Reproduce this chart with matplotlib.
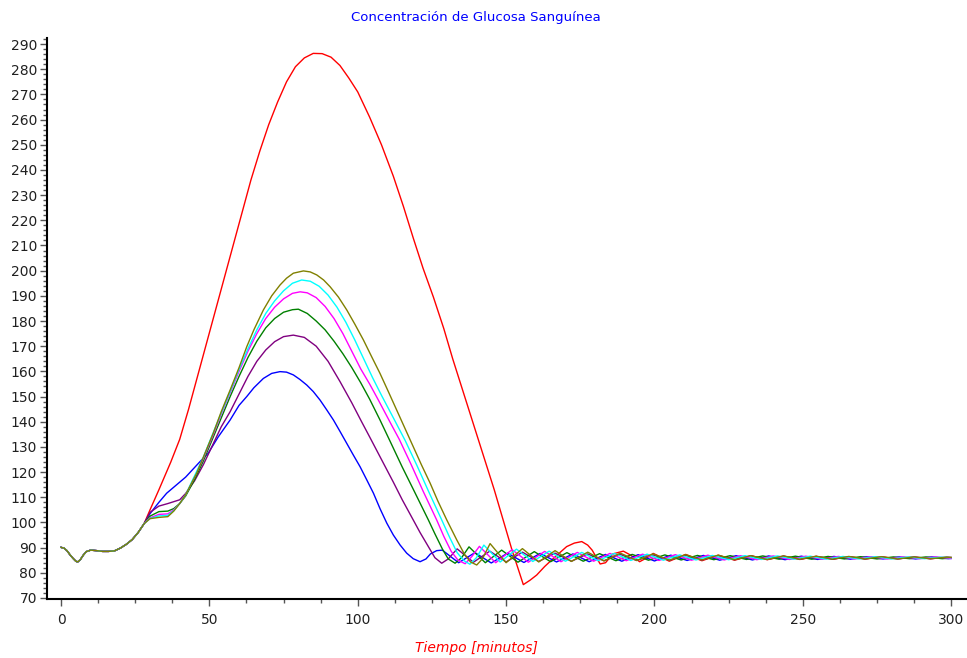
import matplotlib
matplotlib.use("Agg")
import matplotlib.pyplot as plt
from matplotlib.ticker import MultipleLocator

# ---------------- data ----------------
t_common = [0, 1, 2, 3, 4, 5, 5.6, 6.5, 7.5, 8.5, 10, 12, 14, 16, 18, 20, 22, 24, 26, 28]
g_common = [90.1, 89.8, 88.8, 87.2, 85.8, 84.6, 84.3, 85.2, 87.0, 88.4, 89.0, 88.8, 88.5, 88.5,
            88.7, 89.8, 91.3, 93.2, 96.0, 99.5]

t_red = [30, 33, 37, 40, 43, 46, 49, 52, 55, 58, 61, 64, 67, 70, 73, 76, 79, 82, 85, 88, 91, 94,
         97, 100, 104, 108, 112, 115.4, 118.7, 122, 125.5, 129, 132, 135.5, 139, 142.5, 146, 149,
         152, 154.5, 155.8, 158, 160.3, 163, 166, 170.4, 173, 175.5, 177.5, 179, 181.7, 183.5, 186,
         189.5, 192, 195, 197.5, 199.6, 205, 210.5, 216, 221.5, 227, 232.5, 238, 243.5, 249, 254.5,
         260, 265.5, 271, 276.5, 282, 287.5, 293, 298.5, 300]
g_red = [105, 113, 124, 133, 145, 158, 171, 184, 197, 210, 223, 236, 247.5, 258, 267, 275, 281,
         284.5, 286.3, 286.2, 284.8, 281.5, 276.5, 271, 261, 250, 237.5, 225.5, 213, 201, 189.5,
         177, 165, 152, 139, 126, 113, 101, 89, 80, 75.3, 77, 79.1, 82.5, 85.8, 90.4, 91.8, 92.4,
         91, 89, 83.5, 84, 87.5, 88.6, 87, 84.4, 86, 87.7, 84.6, 87.3, 84.8, 87.0, 85.0, 86.8, 85.2,
         86.6, 85.3, 86.5, 85.4, 86.4, 85.5, 86.3, 85.6, 86.2, 85.6, 86.1, 86.0]

t_blue = [30, 33, 35.6, 38.9, 42, 46.8, 49.6, 53, 57, 60, 62.6, 65, 68.2, 71, 73.8, 76, 78.3,
          80.5, 82.8, 85, 87.3, 89.5, 91.8, 94, 96.3, 98.5, 100.8, 103, 105.3, 107.5, 109.8, 112,
          114.3, 116.5, 118.7, 121, 123, 124.5, 126.6, 128.5, 134, 139.5, 145, 150.5, 156, 161.5,
          167, 172.5, 178, 183.5, 189, 194.5, 200, 205.5, 211, 216.5, 222, 227.5, 233, 238.5, 244,
          249.5, 255, 260.5, 266, 271.5, 277, 282.5, 288, 293.5, 299, 300]
g_blue = [103.5, 108, 111.6, 114.9, 118, 124.1, 127.5, 134, 140.7, 146.5, 150, 153.5, 157.2, 159.2,
          159.9, 159.7, 158.6, 156.8, 154.6, 152, 148.6, 144.8, 140.7, 136.2, 131.4, 126.8, 122.1,
          117, 111.6, 105.5, 99.7, 95, 91, 87.8, 85.6, 84.4, 85.5, 87.5, 88.8, 89.0, 84.0, 88.0,
          83.9, 87.8, 84.1, 87.7, 84.3, 87.5, 84.4, 87.3, 84.6, 87.2, 84.7, 87.0, 84.9, 86.9, 85.0,
          86.8, 85.1, 86.7, 85.2, 86.6, 85.3, 86.5, 85.4, 86.4, 85.5, 86.3, 85.5, 86.3, 85.6, 85.7]

t_purple = [30, 33, 36, 40, 42, 45, 48, 51, 54, 57, 60, 63, 66, 69, 72, 75, 78.3, 82, 86, 90, 94,
            98, 101.3, 104, 108, 112, 115, 118.7, 121, 124, 126, 128.3, 130.5, 133.5, 139, 144.5,
            150, 155.5, 161, 166.5, 172, 177.5, 183, 188.5, 194, 199.5, 205, 210.5, 216, 221.5,
            227, 232.5, 238, 243.5, 249, 254.5, 260, 265.5, 271, 276.5, 282, 287.5, 293, 298.5, 300]
g_purple = [104, 106.5, 107.5, 109, 111.5, 116.5, 123, 130.5, 138, 144, 151, 158, 164, 168.5,
            171.8, 173.8, 174.4, 173.5, 170, 164, 156, 147.5, 140, 134, 125, 116, 109, 101, 96,
            90, 86, 83.8, 85.5, 89.5, 84.2, 88.6, 84.3, 88.2, 84.5, 87.8, 84.6, 87.5, 84.8, 87.3,
            84.9, 87.1, 85.0, 86.9, 85.1, 86.8, 85.2, 86.7, 85.3, 86.6, 85.4, 86.5, 85.4, 86.4,
            85.5, 86.3, 85.5, 86.3, 85.6, 86.2, 86.1]

t_green = [30, 33, 36, 38, 40, 42, 45, 48, 51, 54, 57, 60, 63, 66, 69, 72, 75, 78, 80, 83, 86, 89,
           92, 95, 98, 101, 104, 107.5, 111, 115, 119, 123.8, 126, 128.5, 130.5, 132.8, 135, 137.5,
           143, 148.5, 154, 159.5, 165, 170.5, 176, 181.5, 187, 192.5, 198, 203.5, 209, 214.5, 220,
           225.5, 231, 236.5, 242, 247.5, 253, 258.5, 264, 269.5, 275, 280.5, 286, 291.5, 297, 300]
g_green = [102.5, 104.3, 104.5, 105.5, 107.5, 110.5, 117, 124.5, 133, 141.5, 150, 158, 165.5, 172,
           177.3, 181, 183.5, 184.5, 184.7, 183, 180, 176.5, 172, 167, 161.5, 155.5, 149, 140.7,
           132, 122, 112.5, 101, 95.5, 89.5, 85.5, 83.8, 86, 90.3, 84.0, 89.0, 84.2, 88.4, 84.4,
           88.0, 84.6, 87.6, 84.8, 87.3, 85.0, 87.1, 85.1, 86.9, 85.2, 86.8, 85.3, 86.7, 85.4, 86.6,
           85.4, 86.5, 85.5, 86.4, 85.5, 86.3, 85.6, 86.3, 85.6, 85.9]

t_magenta = [30, 33, 36, 38, 40, 42, 45, 48, 51, 54, 57, 60, 63, 66, 69, 72, 75, 78, 80.6, 83, 86,
             89, 92, 95, 98, 101, 104, 107, 110.9, 114, 118, 122, 126.6, 129, 131.5, 133.8, 136.2,
             138.5, 141, 146.5, 152, 157.5, 163, 168.5, 174, 179.5, 185, 190.5, 196, 201.5, 207,
             212.5, 218, 223.5, 229, 234.5, 240, 245.5, 251, 256.5, 262, 267.5, 273, 278.5, 284,
             289.5, 295, 300]
g_magenta = [101.8, 103.2, 103.4, 105, 107.5, 111, 118, 125.5, 134, 143, 151.5, 160, 168, 175,
             181, 185.5, 188.8, 191, 191.6, 191.2, 189.3, 185.8, 181, 175, 168, 161, 155, 148.5,
             139.8, 133, 123, 112.5, 101, 94.5, 88.5, 85, 83.6, 86.5, 90.5, 84.0, 89.2, 84.2, 88.5,
             84.4, 88.1, 84.6, 87.7, 84.8, 87.4, 84.9, 87.2, 85.0, 87.0, 85.1, 86.8, 85.2, 86.7,
             85.3, 86.6, 85.4, 86.5, 85.5, 86.4, 85.5, 86.3, 85.6, 86.3, 85.7]

t_cyan = [30, 33, 36, 38, 40, 42, 45, 48, 51, 54, 57, 60, 63, 66, 69, 72, 75, 78, 81.1, 84, 87, 90,
          93, 96, 99, 102, 105, 108, 112.6, 116, 120, 124, 128.3, 131, 133.5, 135.8, 137.8, 140,
          142.5, 148, 153.5, 159, 164.5, 170, 175.5, 181, 186.5, 192, 197.5, 203, 208.5, 214,
          219.5, 225, 230.5, 236, 241.5, 247, 252.5, 258, 263.5, 269, 274.5, 280, 285.5, 291,
          296.5, 300]
g_cyan = [101.6, 102.6, 102.8, 104.7, 107.5, 111, 118.5, 126, 134.8, 143.5, 152, 160.8, 169, 176.5,
          183, 188, 192, 195, 196.3, 195.8, 193.8, 190.3, 185.5, 179.5, 172.5, 165, 157.5, 150.5,
          140.2, 132.5, 122.5, 112, 101, 94, 88, 84.8, 83.4, 86, 91, 84.3, 89.4, 84.5, 88.6, 84.6,
          88.1, 84.8, 87.7, 84.9, 87.4, 85.0, 87.1, 85.1, 86.9, 85.2, 86.8, 85.3, 86.7, 85.4, 86.6,
          85.4, 86.5, 85.5, 86.4, 85.5, 86.3, 85.6, 86.2, 86.0]

t_olive = [30, 33, 36, 38, 40, 42, 45.7, 48, 51.3, 54, 57, 60, 62.6, 65, 68.2, 71, 73.8, 76, 78.3,
           81.7, 84, 86.2, 88.5, 90.7, 93.5, 96.3, 99, 101.9, 104.7, 107.5, 110.3, 113.1, 115.9,
           118.7, 121.5, 124.4, 127, 130, 133.4, 136, 138, 140.1, 142, 144.6, 150, 155.5, 161,
           166.5, 172, 177.5, 183, 188.5, 194, 199.5, 205, 210.5, 216, 221.5, 227, 232.5, 238,
           243.5, 249, 254.5, 260, 265.5, 271, 276.5, 282, 287.5, 293, 298.5, 300]
g_olive = [101.5, 102, 102.3, 104.5, 107.5, 111, 119.5, 126, 135.4, 144, 152.6, 161.5, 169.8,
           176.5, 184.4, 190, 194.3, 197, 199, 199.9, 199.5, 198.3, 196.3, 193.6, 189.5, 184.4,
           178.8, 172.5, 165.8, 159.2, 152, 144.7, 137.4, 130.1, 122.8, 115.6, 108.5, 101, 93, 87.3,
           84.3, 83.1, 85.5, 91.6, 84.0, 89.6, 84.3, 88.8, 84.5, 88.2, 84.7, 87.8, 84.9, 87.5, 85.0,
           87.2, 85.1, 87.0, 85.2, 86.8, 85.3, 86.7, 85.4, 86.6, 85.4, 86.5, 85.5, 86.4, 85.5, 86.3,
           85.6, 86.2, 86.1]

series = [
    ("red", t_red, g_red, "#FF0000"),
    ("blue", t_blue, g_blue, "#0000FF"),
    ("purple", t_purple, g_purple, "#800080"),
    ("green", t_green, g_green, "#008000"),
    ("magenta", t_magenta, g_magenta, "#FF00FF"),
    ("cyan", t_cyan, g_cyan, "#00FFFF"),
    ("olive", t_olive, g_olive, "#808000"),
]

title = "Concentración de Glucosa Sanguínea"
xlabel = "Tiempo [minutos]"

# ---------------- figure ----------------
fig = plt.figure(figsize=(9.67, 6.58), dpi=100)
ax = fig.add_axes([0.0483, 0.0897, 0.9507, 0.8525])

for name, tt, gg, col in series:
    ax.plot(t_common + tt, g_common + gg, color=col, lw=1.0, antialiased=True)

ax.set_xlim(-4.82, 305.0)
ax.set_ylim(69.6, 292.4)
ax.xaxis.set_major_locator(MultipleLocator(50))
ax.xaxis.set_minor_locator(MultipleLocator(12.5))
ax.yaxis.set_major_locator(MultipleLocator(10))
ax.yaxis.set_minor_locator(MultipleLocator(2))

for s in ["top", "right"]:
    ax.spines[s].set_visible(False)
for s in ["left", "bottom"]:
    ax.spines[s].set_linewidth(1.5)
    ax.spines[s].set_color("black")

ax.tick_params(axis="both", which="major", direction="out", length=5, width=1,
               colors="#555555", labelcolor="#202020", labelsize=10)
ax.tick_params(axis="both", which="minor", direction="out", length=3, width=1, colors="#555555")
ax.tick_params(axis="y", which="major", pad=2)
ax.tick_params(axis="x", which="major", pad=5)

fig.text(476 / 967, 1 - 17 / 658, title, color="#0000FF", fontsize=9.5,
         ha="center", va="center")
fig.text(476 / 967, 1 - 648 / 658, xlabel, color="#FF0000", fontsize=10, style="italic",
         ha="center", va="center")

fig.savefig("out.png", dpi=100)
